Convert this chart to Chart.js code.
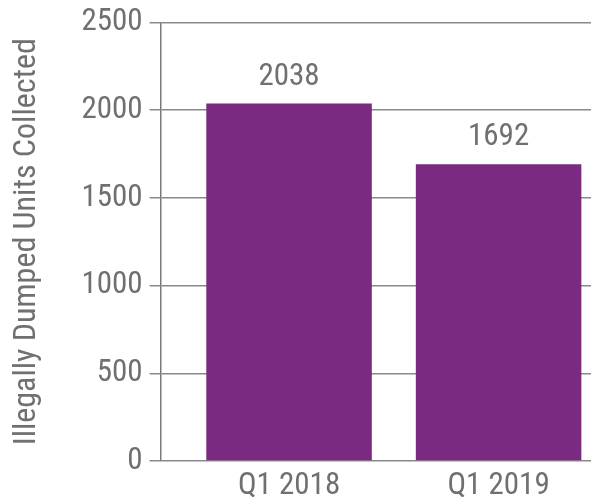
<!DOCTYPE html>
<html>
<head>
<meta charset="utf-8">
<script src="https://cdn.jsdelivr.net/npm/chart.js@4"></script>
<style>
  html, body { margin: 0; padding: 0; background: #fff; overflow: hidden; }
  #wrap { width: 591px; height: 497px; }
</style>
</head>
<body>
<div id="wrap"><canvas id="grafico"></canvas></div>
<script>
// Datos
const categorias = ['Q1 2018', 'Q1 2019'];
const unidades = [2038, 1692];
const ticksY = [0, 500, 1000, 1500, 2000, 2500];

const fuente = "'Roboto Condensed', 'Liberation Sans Narrow', 'Arial Narrow', 'DejaVu Sans Condensed', sans-serif";
const gris = '#707070';

// Etiquetas encima de cada barra
const etiquetasBarras = {
    id: 'etiquetasBarras',
    afterDatasetsDraw(chart) {
        const ctx = chart.ctx;
        ctx.save();
        ctx.font = '31px ' + fuente;
        ctx.fillStyle = gris;
        ctx.textAlign = 'center';
        ctx.textBaseline = 'bottom';
        chart.getDatasetMeta(0).data.forEach(function (barra, i) {
            ctx.fillText(String(unidades[i]), barra.x, barra.y - 11);
        });
        ctx.restore();
    }
};

const ctx = document.getElementById('grafico').getContext('2d');
new Chart(ctx, {
    type: 'bar',
    data: {
        datasets: [{
            data: unidades.map((v, i) => ({ x: i, y: v })),
            backgroundColor: '#7A2A80',
            categoryPercentage: 1,
            barPercentage: 0.79
        }]
    },
    options: {
        responsive: true,
        maintainAspectRatio: false,
        animation: false,
        layout: { padding: { top: 6, right: 0, bottom: -7, left: 8 } },
        plugins: {
            legend: { display: false },
            tooltip: { enabled: false }
        },
        scales: {
            x: {
                type: 'linear',
                bounds: 'data',
                offset: false,
                min: -0.613,
                max: 1.441,
                grid: { display: false },
                border: { display: false },
                afterBuildTicks: s => { s.ticks = categorias.map((c, i) => ({ value: i })); },
                ticks: {
                    includeBounds: false,
                    autoSkip: false,
                    maxRotation: 0,
                    padding: 2,
                    color: gris,
                    font: { family: fuente, size: 31, lineHeight: 1 },
                    callback: v => categorias[v]
                }
            },
            y: {
                min: 0,
                max: 2500,
                afterBuildTicks: s => { s.ticks = ticksY.map(v => ({ value: v })); },
                grid: { color: '#8a8a8a', lineWidth: 1.5, tickLength: 11 },
                border: { color: '#7a7a7a', width: 1.5 },
                ticks: {
                    padding: 7,
                    color: gris,
                    font: { family: fuente, size: 31, lineHeight: 1 },
                    callback: v => String(v)
                },
                title: {
                    display: true,
                    text: 'Illegally Dumped Units Collected',
                    color: gris,
                    font: { family: fuente, size: 32 },
                    padding: { top: 0, bottom: 28 }
                }
            }
        }
    },
    plugins: [etiquetasBarras]
});
</script>
</body>
</html>
